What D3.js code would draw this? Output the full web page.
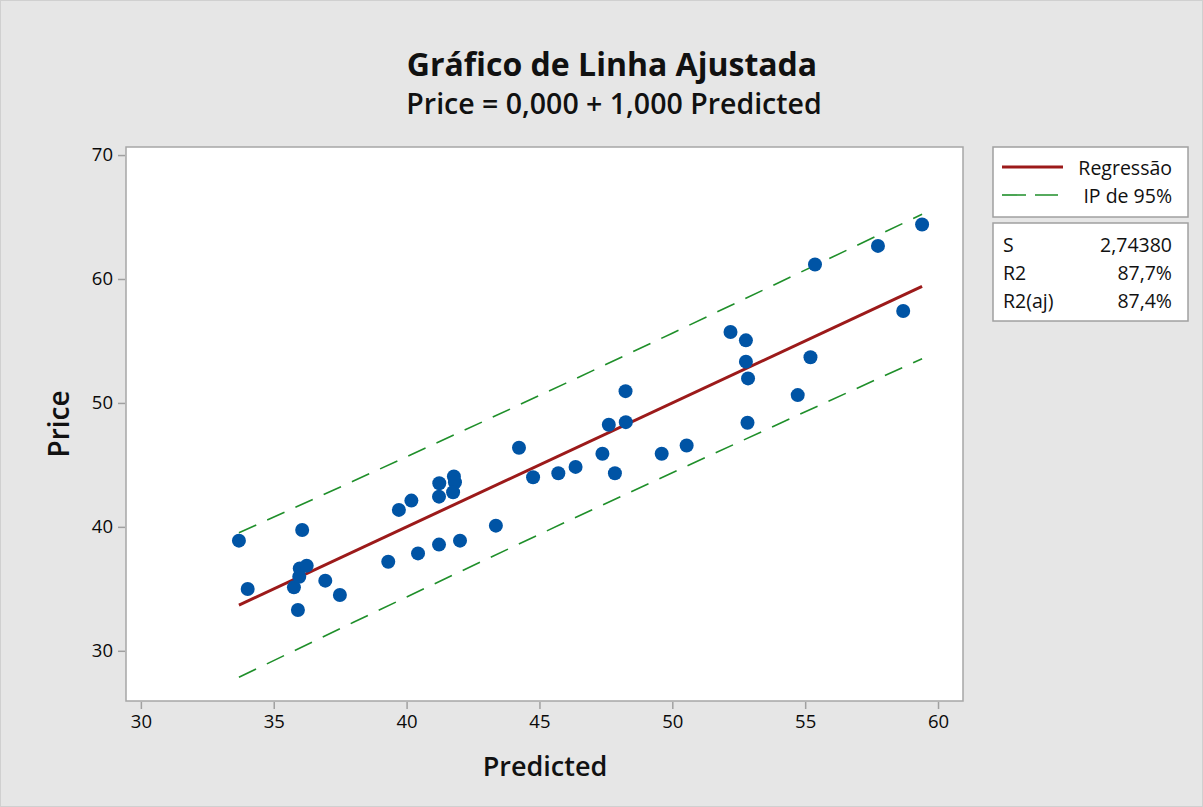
<!DOCTYPE html>
<html><head><meta charset="utf-8">
<script src="https://cdn.jsdelivr.net/npm/d3@7"></script>
<style>body{margin:0;background:#e6e6e6;} svg{display:block;font-family:"Open Sans","Noto Sans",sans-serif;}</style>
</head><body>
<script>
const predicted = [33.69,34.02,36.07,35.91,35.76,35.96,35.98,36.24,36.94,37.49,39.31,40.43,41.22,42.01,43.36,39.71,40.18,41.23,41.22,41.78,41.82,41.75,44.23,44.76,45.71,46.36,47.37,47.84,47.61,48.25,48.24,49.60,50.54,52.19,52.77,52.77,52.85,52.83,54.72,55.20,55.37,57.74,58.69,59.40];
const price = [38.89,34.99,39.75,33.29,35.12,35.98,36.65,36.87,35.66,34.50,37.19,37.86,38.57,38.89,40.10,41.37,42.12,43.52,42.44,44.06,43.60,42.79,46.38,44.00,44.33,44.84,45.90,44.33,48.24,48.45,50.95,45.90,46.57,55.72,55.05,53.33,51.98,48.40,50.63,53.68,61.17,62.67,57.42,64.40];
const piX = [33.69,38,42,46,50,54,59.40];
const piUpper = [39.52,43.70,47.63,51.60,55.63,59.70,65.23];
const piLower = [27.86,32.30,36.37,40.40,44.37,48.30,53.57];
const xTicks = [30,35,40,45,50,55,60];
const yTicks = [30,40,50,60,70];
const statsLabels = ["S","R2","R2(aj)"];
const statsValues = ["2,74380","87,7%","87,4%"];

const W=1203,H=807;
const svg=d3.select("body").append("svg").attr("width",W).attr("height",H);
svg.append("rect").attr("x",0).attr("y",0).attr("width",W).attr("height",H).attr("fill","#e6e6e6");
svg.append("rect").attr("x",0.5).attr("y",0.5).attr("width",W-1).attr("height",H-1).attr("fill","none").attr("stroke","#d0d0d0");

const L=126,R=963,T=147,B=701;
const x=d3.scaleLinear().domain([29.44,60.94]).range([L,R]);
const y=d3.scaleLinear().domain([25.95,70.65]).range([B,T]);

svg.append("rect").attr("x",L).attr("y",T).attr("width",R-L).attr("height",B-T).attr("fill","#fff").attr("stroke","#a6a6a6").attr("stroke-width",1.5);

const xa=svg.append("g").attr("transform",`translate(0,${B+1})`).call(d3.axisBottom(x).tickValues(xTicks).tickSize(7).tickPadding(6).tickFormat(d3.format("d")));
const ya=svg.append("g").attr("transform",`translate(${L-1},0)`).call(d3.axisLeft(y).tickValues(yTicks).tickSize(7).tickPadding(5).tickFormat(d3.format("d")));
[xa,ya].forEach(a=>{a.select(".domain").remove();a.selectAll("line").attr("stroke","#a0a0a0").attr("stroke-width",1.5);a.selectAll("text").attr("fill","#0a0a0a").style("font-size","18.5px").style("font-family","'Open Sans',sans-serif");});

const line=d3.line().x(d=>x(d[0])).y(d=>y(d[1]));
const g=svg.append("g");
g.append("path").datum(piX.map((v,i)=>[v,piUpper[i]])).attr("d",line.curve(d3.curveMonotoneX)).attr("fill","none").attr("stroke","#1f8f2a").attr("stroke-width",1.6).attr("stroke-dasharray","19,12");
g.append("path").datum(piX.map((v,i)=>[v,piLower[i]])).attr("d",line.curve(d3.curveMonotoneX)).attr("fill","none").attr("stroke","#1f8f2a").attr("stroke-width",1.6).attr("stroke-dasharray","19,12");
const xmin=d3.min(predicted),xmax=d3.max(predicted);
g.append("path").datum([[xmin,xmin],[xmax,xmax]]).attr("d",d3.line().x(d=>x(d[0])).y(d=>y(d[1]))).attr("fill","none").attr("stroke","#9c1a1a").attr("stroke-width",3);

g.selectAll("circle").data(predicted).join("circle").attr("cx",d=>x(d)).attr("cy",(d,i)=>y(price[i])).attr("r",7).attr("fill","#0054a5");

svg.append("text").attr("x",612).attr("y",76).attr("text-anchor","middle").style("font-size","32px").style("font-weight","700").attr("fill","#111").text("Gráfico de Linha Ajustada");
svg.append("text").attr("x",614).attr("y",114).attr("text-anchor","middle").style("font-size","28.5px").style("font-weight","600").attr("fill","#111").text("Price = 0,000 + 1,000 Predicted");
svg.append("text").attr("x",545).attr("y",776).attr("text-anchor","middle").style("font-size","27px").style("font-weight","600").attr("fill","#111").text("Predicted");
svg.append("text").attr("transform","translate(69,424) rotate(-90)").attr("text-anchor","middle").style("font-size","28px").style("font-weight","600").attr("fill","#111").text("Price");

// legend
svg.append("rect").attr("x",993).attr("y",147).attr("width",195).attr("height",70).attr("fill","#fff").attr("stroke","#a0a0a0").attr("stroke-width",1.5);
svg.append("line").attr("x1",1002).attr("x2",1063).attr("y1",167).attr("y2",167).attr("stroke","#9c1a1a").attr("stroke-width",3);
svg.append("line").attr("x1",1002).attr("x2",1058).attr("y1",195).attr("y2",195).attr("stroke","#1f8f2a").attr("stroke-width",1.6).attr("stroke-dasharray","24,9");
svg.append("text").attr("x",1172).attr("y",175).attr("text-anchor","end").style("font-size","19.5px").attr("fill","#111").text("Regressão");
svg.append("text").attr("x",1172).attr("y",203).attr("text-anchor","end").style("font-size","19.5px").attr("fill","#111").text("IP de 95%");

svg.append("rect").attr("x",993).attr("y",223).attr("width",195).attr("height",98).attr("fill","#fff").attr("stroke","#a0a0a0").attr("stroke-width",1.5);
statsLabels.forEach((s,i)=>{
  svg.append("text").attr("x",1003).attr("y",252+i*28).style("font-size","19.5px").attr("fill","#111").text(s);
  svg.append("text").attr("x",1172).attr("y",252+i*28).attr("text-anchor","end").style("font-size","19.5px").attr("fill","#111").text(statsValues[i]);
});
</script>
</body></html>
